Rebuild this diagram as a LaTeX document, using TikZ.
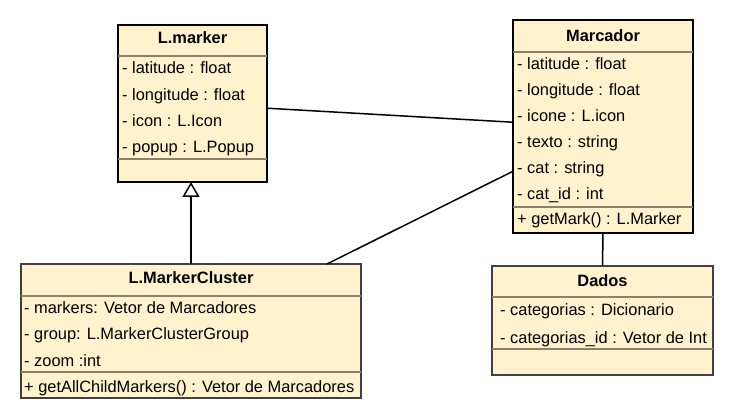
\documentclass[tikz,border=0pt]{standalone}
\usepackage{fontspec}
\setmainfont{Liberation Sans}
\usepackage{tikz}
\usetikzlibrary{calc,arrows.meta}
\usepackage{xcolor}
\definecolor{fond}{RGB}{255,242,204}
\definecolor{trait}{RGB}{140,128,106}

\begin{document}
\begin{tikzpicture}[x=1pt,y=-1pt,
    classe/.style={draw,fill=fond,inner sep=0,outer sep=0,line width=2pt},
    classefine/.style={draw=black!75,fill=fond,inner sep=0,outer sep=0,line width=1.2pt},
    titre/.style={anchor=base,inner sep=0,font=\fontsize{16.4}{19}\selectfont\bfseries},
    champ/.style={anchor=base west,inner sep=0,font=\fontsize{16.4}{19}\selectfont},
    sep/.style={draw=trait,line width=1.2pt},
    lien/.style={line width=1.5pt}]
      \useasboundingbox (0,0) rectangle (733,419);

      % Classes
      \node[classe, minimum width=149, minimum height=157] (marker) at (192.5,103.5) {};
      \node[classe, minimum width=180, minimum height=213] (marcador) at (603,126.5) {};
      \node[classefine, minimum width=340, minimum height=134] (cluster) at (191,331) {};
      \node[classefine, minimum width=221, minimum height=109] (dados) at (602.5,320.5) {};

      % Separateurs
      \draw[sep] (marker.west |- 0,56) -- (marker.east |- 0,56);
      \draw[sep] (marker.west |- 0,159) -- (marker.east |- 0,159);
      \draw[sep] (marcador.west |- 0,52) -- (marcador.east |- 0,52);
      \draw[sep] (marcador.west |- 0,207) -- (marcador.east |- 0,207);
      \draw[sep] (cluster.west |- 0,296) -- (cluster.east |- 0,296);
      \draw[sep] (cluster.west |- 0,372) -- (cluster.east |- 0,372);
      \draw[sep] (dados.west |- 0,297) -- (dados.east |- 0,297);
      \draw[sep] (dados.west |- 0,349) -- (dados.east |- 0,349);

      % L.marker
      \node[titre] (markerT) at (192.5,44) {L.marker};
      \node[champ] (marker1) at (122,74) {- latitude : float};
      \node[champ] (marker2) at (122,100.5) {- longitude : float};
      \node[champ] (marker3) at (122,127) {- icon : L.Icon};
      \node[champ] (marker4) at (122,153) {- popup : L.Popup};

      % Marcador
      \node[titre] (marcadorT) at (603,42) {Marcador};
      \node[champ] (marcador1) at (517,70) {- latitude : float};
      \node[champ] (marcador2) at (517,96) {- longitude : float};
      \node[champ] (marcador3) at (517,122) {- icone : L.icon};
      \node[champ] (marcador4) at (517,148) {- texto : string};
      \node[champ] (marcador5) at (517,174) {- cat : string};
      \node[champ] (marcador6) at (517,200) {- cat\_id : int};
      \node[champ] (marcador7) at (517,225) {+ getMark() : L.Marker};

      % L.MarkerCluster
      \node[titre] (clusterT) at (191,284) {L.MarkerCluster};
      \node[champ] (cluster1) at (24,313) {- markers: Vetor de Marcadores};
      \node[champ] (cluster2) at (24,339.5) {- group: L.MarkerClusterGroup};
      \node[champ] (cluster3) at (24,366) {- zoom :int};
      \node[champ] (cluster4) at (24,392) {+ getAllChildMarkers() : Vetor de Marcadores};

      % Dados
      \node[titre] (dadosT) at (602.5,287) {Dados};
      \node[champ] (dados1) at (500,316) {- categorias : Dicionario};
      \node[champ] (dados2) at (500,343) {- categorias\_id : Vetor de Int};

      % Liens
      \coordinate (a1) at ($(marker.north east)!0.53!(marker.south east)$);
      \coordinate (a2) at ($(marcador.north west)!0.48!(marcador.south west)$);
      \coordinate (b1) at ($(cluster.north west)!0.9!(cluster.north east)$);
      \coordinate (b2) at ($(marcador.north west)!0.71!(marcador.south west)$);
      \draw[lien] (a1) -- (a2);
      \draw[lien] (b1) -- (b2);
      \draw[lien] (marcador.south) -- (dados.north);
      \draw[lien, -{Triangle[open,width=17pt,length=15pt]}] (cluster.north) -- (cluster.north |- marker.south);
    \end{tikzpicture}
\end{document}
